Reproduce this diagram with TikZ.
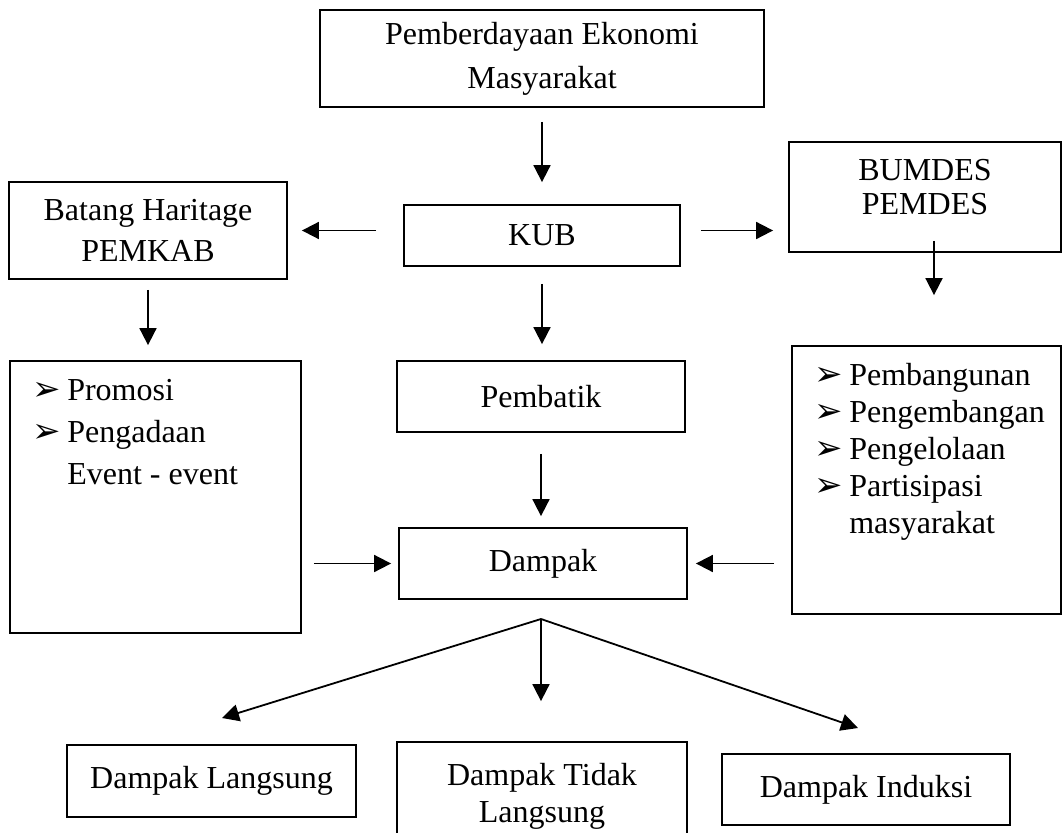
\documentclass[tikz,border=0pt]{standalone}
\usepackage{fontspec}
\setmainfont{Liberation Serif}
\newfontfamily\symfont{DejaVu Sans}
\usetikzlibrary{arrows.meta}
\tikzset{
  box/.style     = {draw, line width=1.8pt, align=center, inner sep=0pt,
                    minimum width=288pt, minimum height=71pt},
  listbox/.style = {draw, line width=1.8pt, inner sep=0pt},
  listtxt/.style = {align=left, inner sep=0pt, anchor=north west},
  arr/.style     = {-{Triangle[length=17pt,width=17pt]}, line width=1.8pt}
}
\newcommand{\bul}{\makebox[35pt][l]{\symfont\fontsize{34}{34}\selectfont ➢}}

\begin{document}
\begin{tikzpicture}[x=1pt, y=-1pt, font=\fontsize{32}{37}\selectfont]
\useasboundingbox (0,0) rectangle (1062,832);

% ---- top row ----
\node[box, minimum width=444pt, minimum height=97pt] (top) at (542,58.5)
  {Pemberdayaan Ekonomi\\[7pt]Masyarakat};
\node[box, minimum width=276pt, minimum height=61pt] (kub) at (542,235.5) {KUB};
\node[box, minimum width=278pt, minimum height=97pt] (bat) at (148,230.5)
  {Batang Haritage\\[4pt]PEMKAB};
\node[box, minimum width=272pt, minimum height=110pt] (bum) at (925,197)
  {BUMDES\\[-3pt]PEMDES\\[-16pt]\mbox{}};

% ---- middle row ----
\node[listbox, minimum width=291pt, minimum height=272pt] (prom) at (155.5,497) {};
\node[listtxt] (promtxt) at ([xshift=23pt,yshift=-19pt]prom.north west)
  {\bul Promosi\\[5pt]
   \bul Pengadaan\\[5pt]
   \hspace*{35pt}Event - event};
\node[box] (pem) at (541,396.5) {Pembatik};
\node[box] (dam) at (543,563.5) {Dampak};
\node[listbox, minimum width=269pt, minimum height=268pt] (bang) at (926.5,480) {};
\node[listtxt] (bangtxt) at ([xshift=23pt,yshift=-18pt]bang.north west)
  {\bul Pembangunan\\
   \bul Pengembangan\\
   \bul Pengelolaan\\
   \bul Partisipasi\\
   \hspace*{35pt}masyarakat};

% ---- bottom row ----
\node[box, minimum width=289pt, minimum height=72pt] (dl) at (211.5,781) {Dampak Langsung};
\node[box, minimum width=290pt, minimum height=108pt] (dtl) at (542,796)
  {Dampak Tidak\\Langsung};
\node[box] (di) at (866,789.5) {Dampak Induksi};

% ---- arrows ----
\draw[arr, shorten <=14pt, shorten >=22pt] (top.south) -- (kub.north);
\draw[arr, shorten <=27pt, shorten >=14pt] (kub.west |- bat.east) -- (bat.east);
\draw[arr, shorten <=20pt, shorten >=15pt] (kub.east |- bat.east) -- (bum.west |- bat.east);
\draw[arr, shorten <=10pt, shorten >=15pt] (bat.south) -- (bat.south |- prom.north);
\draw[arr, shorten >=50pt] ([xshift=9pt,yshift=12pt]bum.south) -- ([xshift=9pt]bum.south |- bang.north);
\draw[arr, shorten <=17pt, shorten >=16pt] (kub.south) -- (kub.south |- pem.north);
\draw[arr, shorten <=21pt, shorten >=11pt] (pem.south) -- (pem.south |- dam.north);
\draw[arr, shorten <=12pt, shorten >=7pt] (dam.west -| prom.east) -- (dam.west);
\draw[arr, shorten <=17pt, shorten >=8pt] (dam.east -| bang.west) -- (dam.east);

% ---- fork to the three impacts ----
\coordinate (fork) at (541,619);
\coordinate (dltip) at (222,718);
\coordinate (ditip) at (858,728);
\draw[arr] (fork) -- (dltip);
\draw[arr, shorten >=40pt] (fork) -- (fork |- dtl.north);
\draw[arr] (fork) -- (ditip);
\end{tikzpicture}
\end{document}
